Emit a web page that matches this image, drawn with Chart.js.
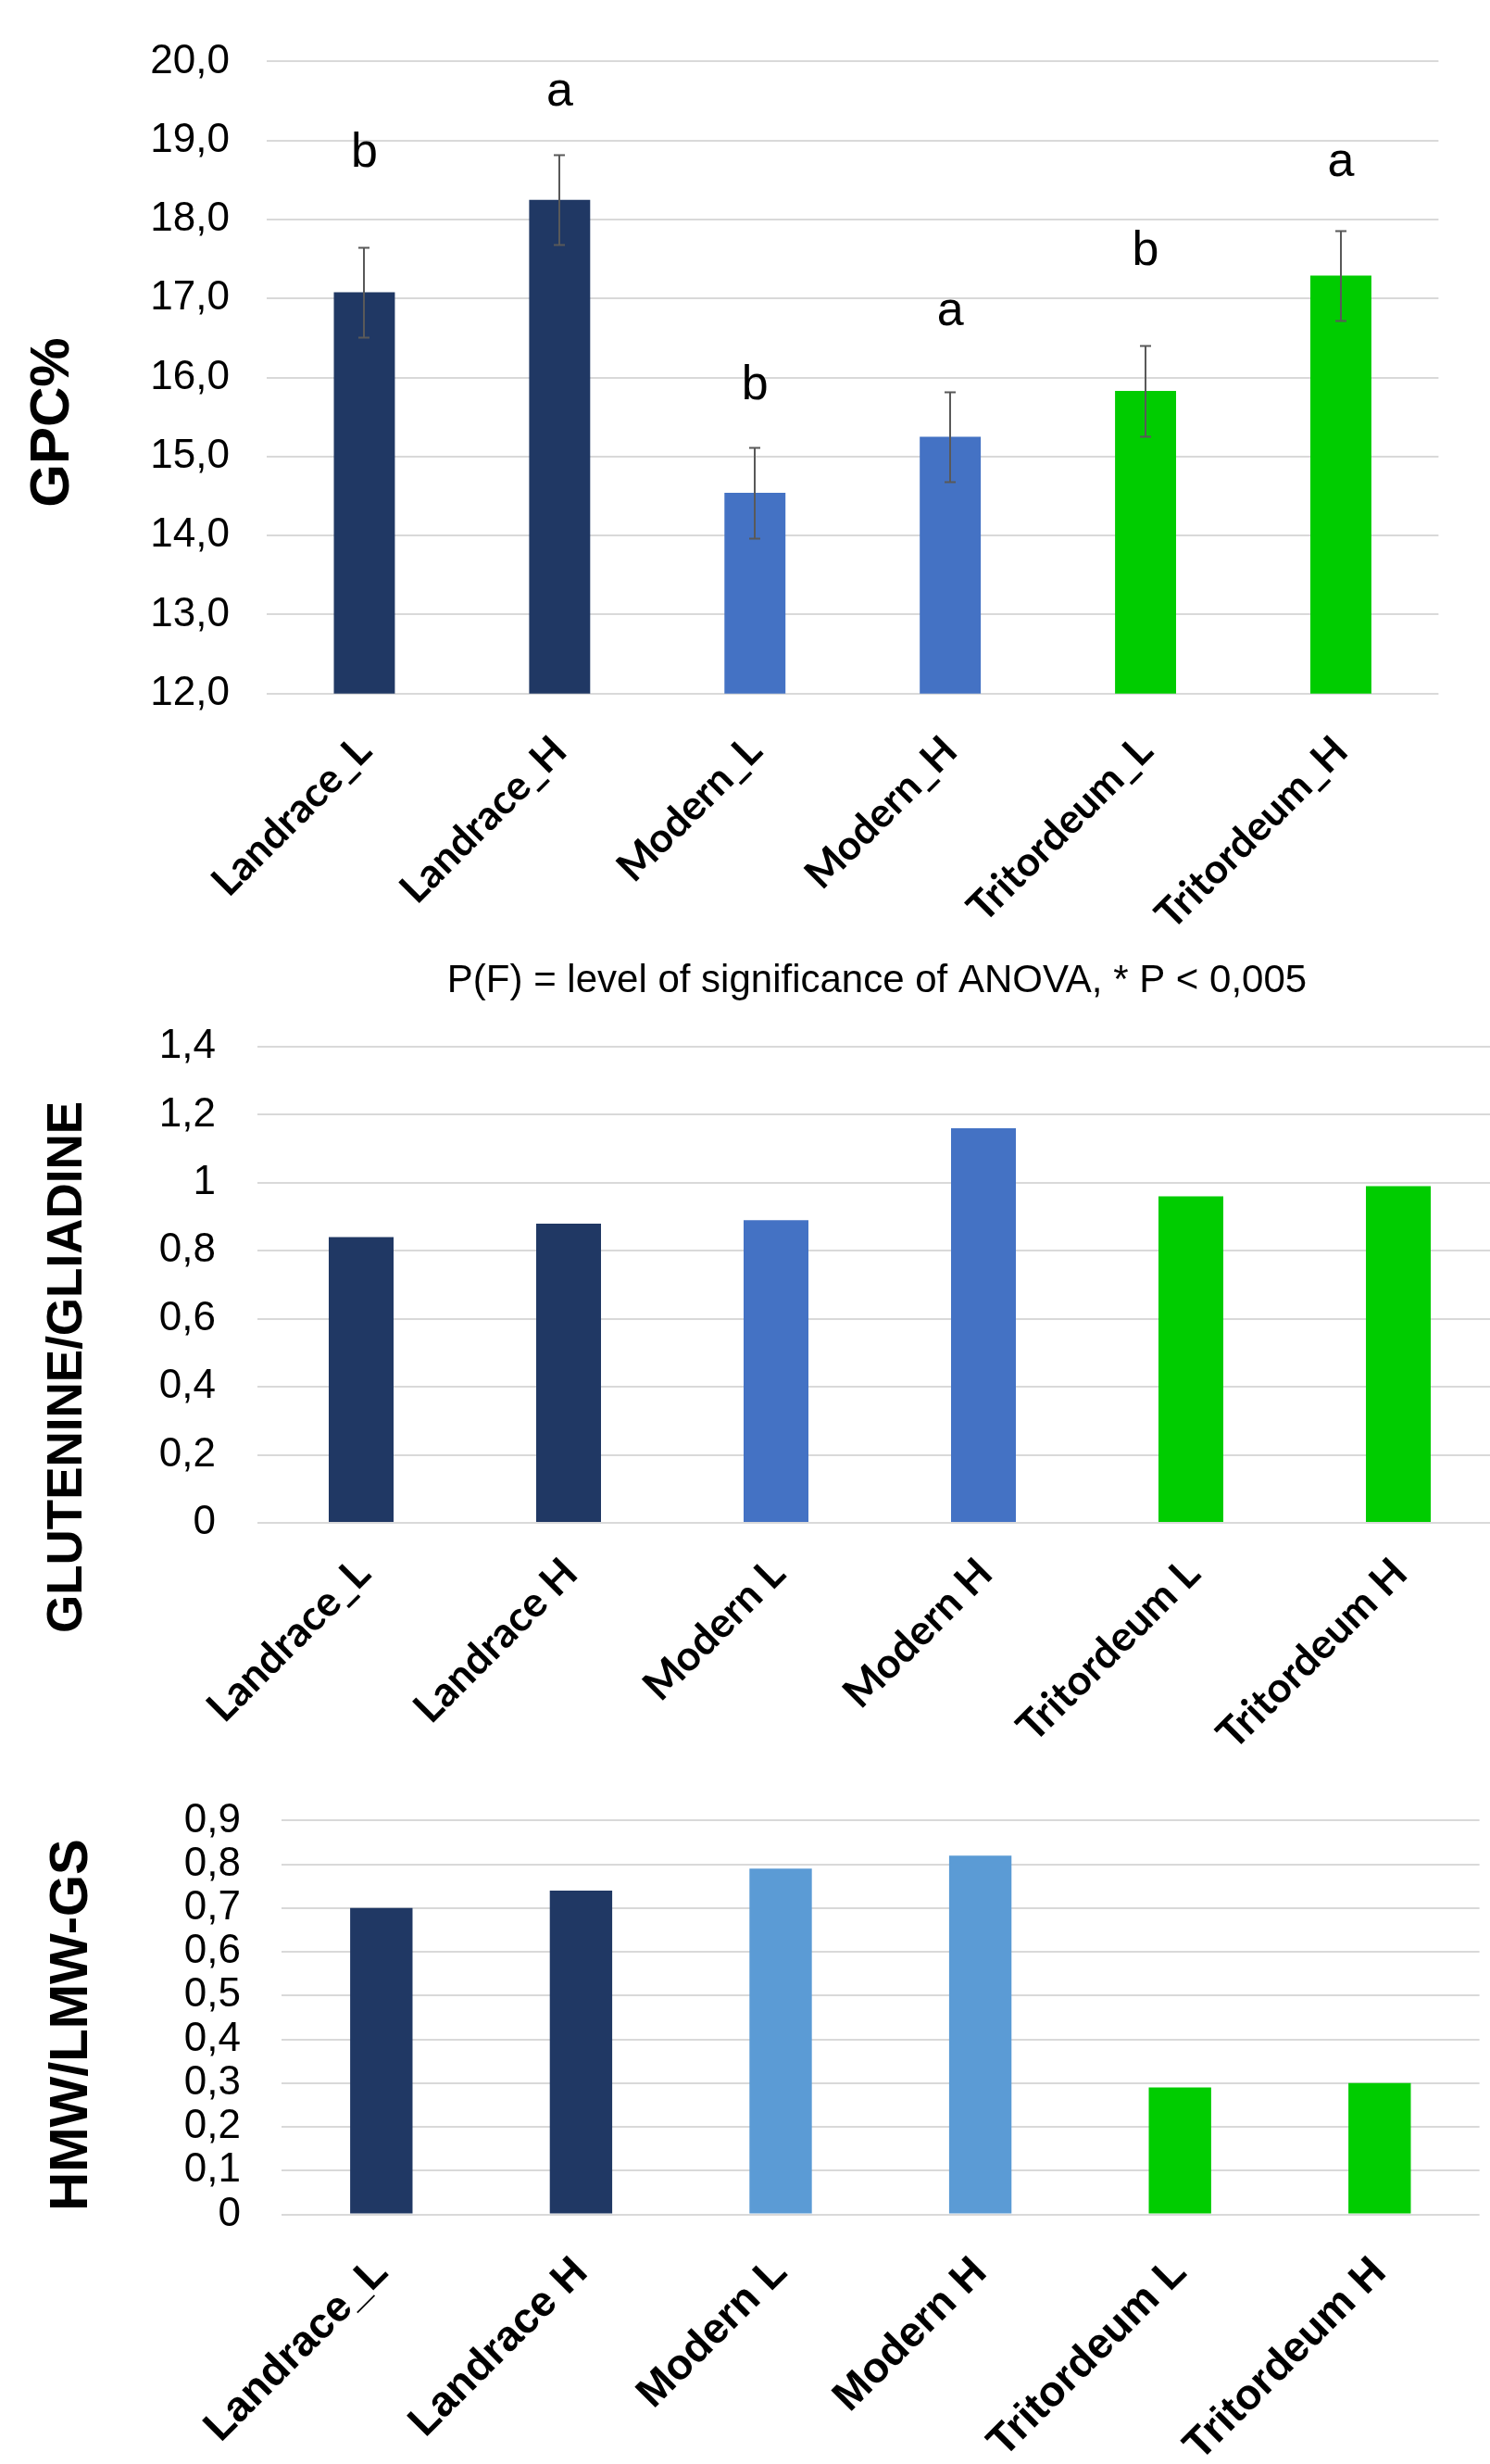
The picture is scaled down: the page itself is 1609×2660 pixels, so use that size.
<!DOCTYPE html>
<html>
<head>
<meta charset="utf-8">
<script src="https://cdn.jsdelivr.net/npm/chart.js@4.4.1/dist/chart.umd.min.js"></script>
<style>
  html, body { margin: 0; padding: 0; background: #fff; overflow: hidden; width: 1609px; height: 2660px; }
  #page { position: relative; width: 1609px; height: 2660px; overflow: hidden; background: #fff; }
  #page canvas { position: absolute; left: 0; }
</style>
</head>
<body>
<div id="page">
  <canvas id="gpc" style="top:0px" width="1609" height="1045"></canvas>
  <canvas id="glu" style="top:1040px" width="1640" height="860"></canvas>
  <canvas id="hmw" style="top:1895px" width="1609" height="765"></canvas>
</div>
<script>
// ---- Grain protein content (GPC %) ----
const gpcLabels = ['Landrace_L', 'Landrace_H', 'Modern_L', 'Modern_H', 'Tritordeum_L', 'Tritordeum_H'];
const gpcValues = [17.08, 18.25, 14.54, 15.25, 15.83, 17.29];
const gpcErrors = [0.57, 0.57, 0.57, 0.57, 0.57, 0.57];
const gpcLetters = ['b', 'a', 'b', 'a', 'b', 'a'];
const gpcLetterLevel = [18.67, 19.44, 15.72, 16.66, 17.42, 18.55];
const gpcTicks = ['12,0', '13,0', '14,0', '15,0', '16,0', '17,0', '18,0', '19,0', '20,0'];

// ---- Glutenin / gliadin ratio ----
const gluLabels = ['Landrace_L', 'Landrace H', 'Modern L', 'Modern H', 'Tritordeum L', 'Tritordeum H'];
const gluValues = [0.84, 0.88, 0.89, 1.16, 0.96, 0.99];
const gluTicks = ['0', '0,2', '0,4', '0,6', '0,8', '1', '1,2', '1,4'];

// ---- HMW / LMW glutenin subunits ratio ----
const hmwLabels = ['Landrace_L', 'Landrace H', 'Modern L', 'Modern H', 'Tritordeum L', 'Tritordeum H'];
const hmwValues = [0.70, 0.74, 0.79, 0.82, 0.29, 0.30];
const hmwTicks = ['0', '0,1', '0,2', '0,3', '0,4', '0,5', '0,6', '0,7', '0,8', '0,9'];

const NAVY = '#203864';
const BLUE = '#4472C4';
const SKY = '#5B9BD5';
const GREEN = '#00CC00';
const GRID = '#D9D9D9';
const SANS = '"Liberation Sans", Arial, Helvetica, sans-serif';

// Rotated axis title drawn at a fixed spot of the canvas
const sideTitle = {
  id: 'sideTitle',
  afterDraw(chart, args, o) {
    if (!o || !o.text) return;
    const c = chart.ctx;
    c.save();
    c.translate(o.x, o.y);
    c.rotate(-Math.PI / 2);
    c.font = o.font;
    c.fillStyle = '#000';
    c.textAlign = 'center';
    c.textBaseline = 'middle';
    c.fillText(o.text, 0, 0);
    c.restore();
  }
};

// Free text line (footnote above the second panel)
const noteText = {
  id: 'noteText',
  afterDraw(chart, args, o) {
    if (!o || !o.text) return;
    const c = chart.ctx;
    c.save();
    c.font = o.font;
    c.fillStyle = '#000';
    c.textAlign = 'center';
    c.textBaseline = 'middle';
    c.fillText(o.text, o.x, o.y);
    c.restore();
  }
};

// Standard-error whiskers and significance letters
const whiskers = {
  id: 'whiskers',
  afterDatasetsDraw(chart, args, o) {
    if (!o || !o.errors) return;
    const meta = chart.getDatasetMeta(0);
    const ys = chart.scales.y;
    const vals = chart.data.datasets[0].data;
    const c = chart.ctx;
    c.save();
    c.strokeStyle = '#595959';
    c.lineWidth = 2;
    meta.data.forEach((bar, i) => {
      const v = vals[i], e = o.errors[i];
      const yt = Math.round(ys.getPixelForValue(v + e)) + 0.5;
      const yb = Math.round(ys.getPixelForValue(v - e)) + 0.5;
      const x = Math.round(bar.x);
      c.beginPath();
      c.moveTo(x, yt); c.lineTo(x, yb);
      c.moveTo(x - 6, yt); c.lineTo(x + 6, yt);
      c.moveTo(x - 6, yb); c.lineTo(x + 6, yb);
      c.stroke();
    });
    if (o.letters) {
      c.fillStyle = '#000';
      c.font = '52px ' + SANS;
      c.textAlign = 'center';
      c.textBaseline = 'alphabetic';
      meta.data.forEach((bar, i) => {
        c.fillText(o.letters[i], bar.x, ys.getPixelForValue(o.letterLevel[i]));
      });
    }
    c.restore();
  }
};

function tickFrom(list, min, step) {
  return (v) => {
    const k = Math.round((v - min) / step);
    return list[k] !== undefined ? list[k] : '';
  };
}

function barPanel(id, cfg) {
  const ctx = document.getElementById(id);
  return new Chart(ctx, {
    type: 'bar',
    data: {
      labels: cfg.labels,
      datasets: [{
        data: cfg.values,
        backgroundColor: cfg.colors,
        borderWidth: 0,
        barPercentage: 0.3125,
        categoryPercentage: 1
      }]
    },
    options: {
      responsive: false,
      maintainAspectRatio: false,
      animation: false,
      devicePixelRatio: 1,
      layout: { padding: { top: cfg.top, right: cfg.right, left: 0, bottom: 0 } },
      plugins: {
        legend: { display: false },
        tooltip: { enabled: false },
        sideTitle: cfg.title,
        noteText: cfg.note || {},
        whiskers: cfg.whiskers || {}
      },
      scales: {
        x: {
          grid: { display: false },
          border: { display: false },
          ticks: {
            autoSkip: false,
            minRotation: 45,
            maxRotation: 45,
            padding: cfg.labelPad,
            labelOffset: cfg.labelShift,
            color: '#000',
            font: cfg.labelFont
          },
          afterFit: (s) => { s.height = cfg.xHeight; }
        },
        y: {
          min: cfg.min,
          max: cfg.max,
          ticks: {
            autoSkip: false,
            stepSize: cfg.step,
            padding: cfg.tickPad,
            color: '#000',
            font: { family: SANS, size: 44 },
            callback: tickFrom(cfg.ticks, cfg.min, cfg.step)
          },
          grid: { color: GRID, lineWidth: 2, drawTicks: false },
          border: { display: false },
          afterFit: (s) => { s.width = cfg.yWidth; }
        }
      }
    },
    plugins: [sideTitle, noteText, whiskers]
  });
}

barPanel('gpc', {
  labels: gpcLabels,
  values: gpcValues,
  colors: [NAVY, NAVY, BLUE, BLUE, GREEN, GREEN],
  min: 12, max: 20, step: 1, ticks: gpcTicks,
  top: 60.7, right: 55.6, yWidth: 288, xHeight: 1045 - 748.7,
  tickPad: 40,
  labelPad: 28, labelShift: 0,
  labelFont: { family: 'Lato, "Open Sans", sans-serif', size: 44, weight: 'bold' },
  title: { text: 'GPC%', x: 57, y: 456, font: 'bold 60px ' + SANS },
  whiskers: { errors: gpcErrors, letters: gpcLetters, letterLevel: gpcLetterLevel }
});

barPanel('glu', {
  labels: gluLabels,
  values: gluValues,
  colors: [NAVY, NAVY, BLUE, BLUE, GREEN, GREEN],
  min: 0, max: 1.4, step: 0.2, ticks: gluTicks,
  top: 90, right: 1640 - 1622, yWidth: 278, xHeight: 860 - 604,
  tickPad: 45,
  labelPad: 20, labelShift: 2,
  labelFont: { family: 'Lato, "Open Sans", sans-serif', size: 45, weight: 'bold' },
  title: { text: 'GLUTENINE/GLIADINE', x: 73, y: 436, font: 'bold 53px ' + SANS },
  note: { text: 'P(F) = level of significance of ANOVA, * P < 0,005', x: 947, y: 19, font: '42px ' + SANS }
});

barPanel('hmw', {
  labels: hmwLabels,
  values: hmwValues,
  colors: [NAVY, NAVY, SKY, SKY, GREEN, GREEN],
  min: 0, max: 0.9, step: 0.1, ticks: hmwTicks,
  top: 60.7, right: 1609 - 1597.6, yWidth: 304, xHeight: 765 - 495.5,
  tickPad: 44,
  labelPad: 28, labelShift: 0,
  labelFont: { family: SANS, size: 46, weight: 'bold' },
  title: { text: 'HMW/LMW-GS', x: 78, y: 291, font: 'bold 58px ' + SANS }
});
</script>
</body>
</html>
